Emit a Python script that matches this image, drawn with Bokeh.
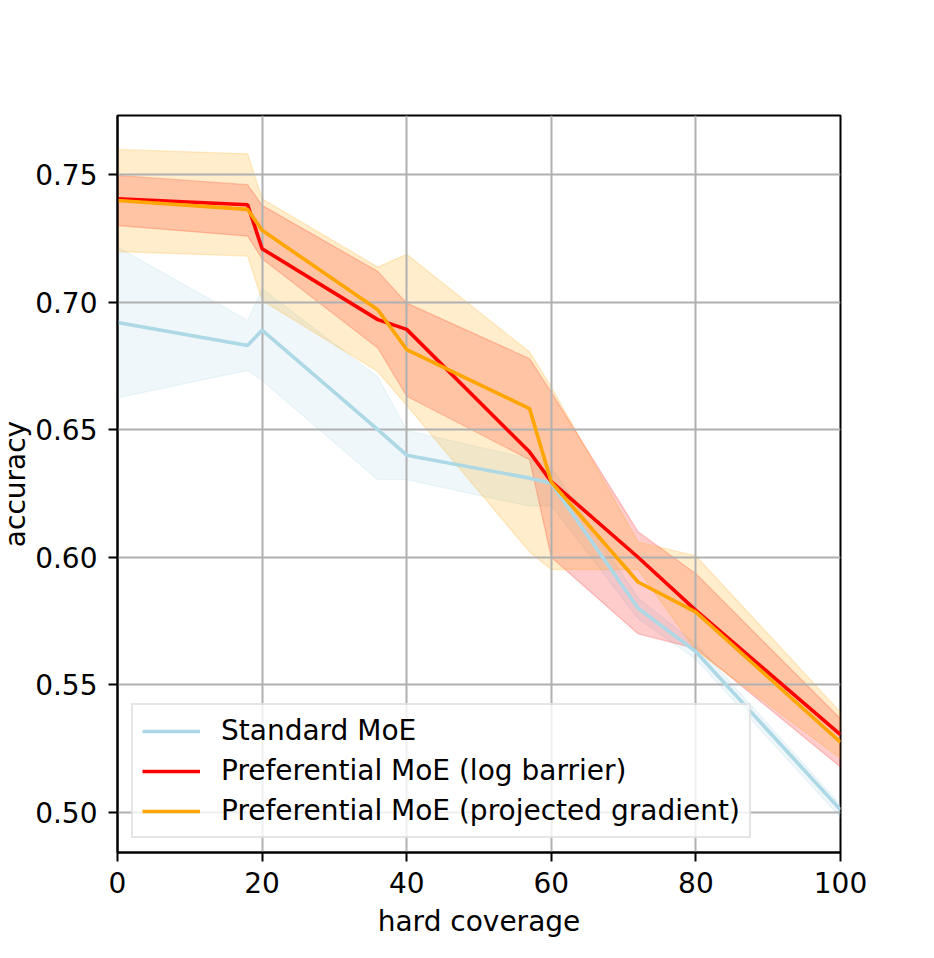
from bokeh.plotting import figure
from bokeh.models import FixedTicker, Legend
from bokeh.embed import file_html
from bokeh.resources import INLINE

# ---- data ----
coverage = [0, 18, 20, 36, 40, 57, 60, 72, 80, 100]

std_mean  = [0.692, 0.683, 0.689, 0.650, 0.640, 0.631, 0.629, 0.580, 0.563, 0.501]
std_upper = [0.7215, 0.6928, 0.7052, 0.6706, 0.6497, 0.6386, 0.6353, 0.584, 0.566, 0.503]
std_lower = [0.6625, 0.6732, 0.6693, 0.6304, 0.6304, 0.620, 0.6203, 0.576, 0.560, 0.498]

log_mean  = [0.7405, 0.7381, 0.7209, 0.6931, 0.6893, 0.6412, 0.6296, 0.600, 0.5792, 0.5305]
log_upper = [0.7496, 0.746, 0.7379, 0.712, 0.6996, 0.6778, 0.6646, 0.610, 0.5935, 0.5367]
log_lower = [0.730, 0.7258, 0.717, 0.682, 0.6631, 0.6382, 0.600, 0.570, 0.5642, 0.5178]

pg_mean  = [0.7398, 0.7363, 0.7281, 0.697, 0.6814, 0.6582, 0.6294, 0.5903, 0.5785, 0.5275]
pg_upper = [0.7598, 0.7581, 0.7405, 0.7137, 0.7187, 0.6804, 0.6667, 0.606, 0.6005, 0.5393]
pg_lower = [0.7198, 0.718, 0.7006, 0.6728, 0.6595, 0.6021, 0.5952, 0.5952, 0.5635, 0.5212]

series_names = ["Standard MoE",
                "Preferential MoE (log barrier)",
                "Preferential MoE (projected gradient)"]
series_colors = ["#add8e6", "#ff0000", "#ffa500"]

x_ticks = [0, 20, 40, 60, 80, 100]
y_ticks = [0.50, 0.55, 0.60, 0.65, 0.70, 0.75]
y_tick_labels = ["0.50", "0.55", "0.60", "0.65", "0.70", "0.75"]
x_label = "hard coverage"
y_label = "accuracy"

FONT = "DejaVu Sans"
FS = "28px"
X_MIN, X_MAX = 0, 100
Y_MIN, Y_MAX = 0.4843, 0.7731

p = figure(width=930, height=954, x_range=(X_MIN, X_MAX), y_range=(Y_MIN, Y_MAX),
           output_backend="svg", toolbar_location=None,
           min_border_left=125, min_border_right=82,
           min_border_top=115, min_border_bottom=102)
# shift the canvas left so the y title can sit close to the page edge
p.styles = {"position": "relative", "left": "-8px"}
p.background_fill_color = "white"
p.border_fill_color = "white"
p.outline_line_color = "black"
p.outline_line_width = 2

means = [std_mean, log_mean, pg_mean]
uppers = [std_upper, log_upper, pg_upper]
lowers = [std_lower, log_lower, pg_lower]

# bands (drawn below grid)
for up, lo, col in zip(uppers, lowers, series_colors):
    r = p.varea(x=coverage, y1=lo, y2=up, fill_color=col, fill_alpha=0.2)
    r.level = "image"
    r1 = p.line(coverage, up, line_color=col, line_alpha=0.2, line_width=1.3)
    r1.level = "image"
    r2 = p.line(coverage, lo, line_color=col, line_alpha=0.2, line_width=1.3)
    r2.level = "image"

items = []
for m, col, name in zip(means, series_colors, series_names):
    r = p.line(coverage, m, line_color=col, line_width=3.6)
    items.append((name, [r]))

legend = Legend(items=items, location="bottom_left")
legend.margin = 14
legend.padding = 9
legend.spacing = 7
legend.glyph_width = 58
legend.glyph_height = 30
legend.label_height = 30
legend.label_standoff = 21
legend.label_text_font = FONT
legend.label_text_font_size = FS
legend.label_text_color = "black"
legend.border_line_color = "#cccccc"
legend.border_line_width = 2
legend.background_fill_color = "white"
legend.background_fill_alpha = 0.8
p.add_layout(legend)

# grid
p.xgrid.ticker = FixedTicker(ticks=x_ticks)
p.ygrid.ticker = FixedTicker(ticks=y_ticks)
p.grid.grid_line_color = "#b0b0b0"
p.grid.grid_line_width = 2

# axes
p.xaxis.ticker = FixedTicker(ticks=x_ticks)
p.yaxis.ticker = FixedTicker(ticks=y_ticks)
p.yaxis.major_label_overrides = {t: s for t, s in zip(y_ticks, y_tick_labels)}
p.xaxis.axis_label = x_label
p.yaxis.axis_label = y_label
for ax in [p.xaxis[0], p.yaxis[0]]:
    ax.axis_line_color = "black"
    ax.axis_line_width = 2
    ax.major_tick_line_color = "black"
    ax.major_tick_line_width = 2
    ax.major_tick_out = 9
    ax.major_tick_in = 0
    ax.minor_tick_line_color = None
    ax.major_label_text_font = FONT
    ax.major_label_text_font_size = FS
    ax.major_label_text_color = "black"
    ax.axis_label_text_font = FONT
    ax.axis_label_text_font_size = FS
    ax.axis_label_text_font_style = "normal"
    ax.axis_label_text_color = "black"
p.xaxis.major_label_standoff = 10
p.yaxis.major_label_standoff = 11
p.xaxis.axis_label_standoff = 9
p.yaxis.axis_label_standoff = 0

open("out.html", "w").write(file_html(p, INLINE))
